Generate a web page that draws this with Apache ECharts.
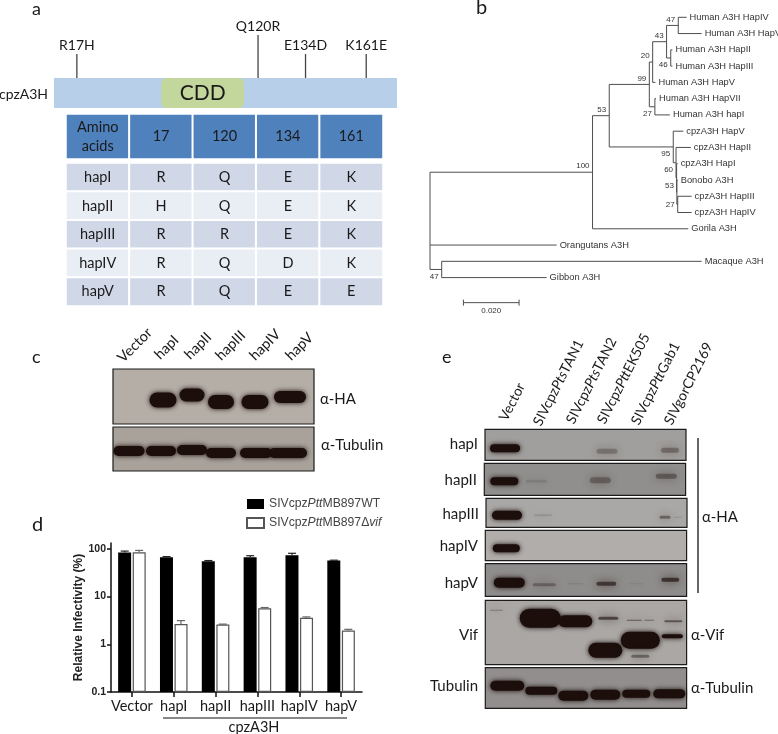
<!DOCTYPE html>
<html><head><meta charset="utf-8">
<style>html,body{margin:0;padding:0;background:#fff}#c{width:778px;height:734px}</style>
<script src="https://cdn.jsdelivr.net/npm/echarts@6/dist/echarts.min.js"></script>
</head><body><div id="c"></div>
<script>
// ---------- panel d data ----------
const infectivityCategories = ['Vector','hapI','hapII','hapIII','hapIV','hapV'];
const wtValues   = [84,67,55,67,74,57];
const wtUpper    = [90,69,57,72,81,58];
const dvifValues = [85,2.67,2.59,5.7,3.6,1.94];
const dvifUpper  = [93,3.14,2.65,5.9,3.75,2.06];
const infectivityTicks = [0.1,1,10,100];
// ---------- panel a data ----------
const siteNames  = ['R17H','Q120R','E134D','K161E'];
const sitePos    = [13,116,143,177.5];
const stemHeight = [0.8,1.43,0.8,0.8];
const cddRange   = [61,108];
const tableHeader = ['Amino\nacids','17','120','134','161'];
const tableRows = [
  ['hapI','R','Q','E','K'],
  ['hapII','H','Q','E','K'],
  ['hapIII','R','R','E','K'],
  ['hapIV','R','Q','D','K'],
  ['hapV','R','Q','E','E']];
// ---------- panel b data: [id, parent, divergence, leaf row or null, label, support] ----------
const treeNodes = [
  ['root',null,0,null,'',''],
  ['A','root',.0584,null,'','100'],
  ['C','A',.0644,null,'','53'],
  ['D','C',.0788,null,'','99'],
  ['F','D',.0800,null,'','20'],
  ['H','F',.0850,null,'','43'],
  ['I','H',.0892,null,'','47'],
  ['l0','I',.0922,0,'Human A3H HapIV',''],
  ['l1','I',.0976,1,'Human A3H HapVI',''],
  ['J','H',.0865,null,'','46'],
  ['l2','J',.0871,2,'Human A3H HapII',''],
  ['l3','J',.0871,3,'Human A3H HapIII',''],
  ['l4','F',.0810,4,'Human A3H HapV',''],
  ['G','D',.0808,null,'','27'],
  ['l5','G',.0812,5,'Human A3H HapVII',''],
  ['l6','G',.0862,6,'Human A3H hapI',''],
  ['E','C',.0874,null,'','95'],
  ['l7','E',.0910,7,'cpzA3H HapV',''],
  ['K','E',.0884,null,'','60'],
  ['l8','K',.0937,8,'cpzA3H HapII',''],
  ['L','K',.0886,null,'',''],
  ['l9','L',.0890,9,'cpzA3H HapI',''],
  ['N','L',.0887,null,'','53'],
  ['l10','N',.0890,10,'Bonobo A3H',''],
  ['P','N',.0890,null,'','27'],
  ['l11','P',.0940,11,'cpzA3H HapIII',''],
  ['l12','P',.0940,12,'cpzA3H HapIV',''],
  ['l13','A',.0928,13,'Gorila A3H',''],
  ['l14','root',.0455,14,'Orangutans A3H',''],
  ['B','root',.0042,null,'','47'],
  ['l15','B',.0976,15,'Macaque A3H',''],
  ['l16','B',.0419,16,'Gibbon A3H','']];
const scaleBarRange = [.0120,.0320];
const scaleBarRow = 17.54;
const scaleBarLabel = '0.020';
// ---------- blots: bands are [x, y, width, height, darkness] within the blot ----------
const blotHA_c = [[50,31,29,17,1],[79,26,27,15,1],[108,33,28,16,1],[142,33,29,16,1],[177,28,34,14,1]];
const blotTub_c = [[16,24,33,12,1],[48,24,32,12,1],[79,23,32,12,1],[108,26,32,12,1],[143,26,34,12,1],[175,26,40,12,1]];
const blotHapI = [[20,19,32,10,1],[122,22,23,7,.25],[185,21,20,7,.3]];
const blotHapII = [[20,18,30,10,1],[52,18,23,5,.12],[116,17,23,8,.3],[182,13,23,7,.35]];
const blotHapIII = [[21,17,32,11,1],[57,17,20,4,.12],[179,19,13,5,.4],[192,19,10,3,.15]];
const blotHapIV = [[21,18,29,10,1]];
const blotHapV = [[24,19,33,12,1],[59,21,25,5,.3],[90,20,17,3,.1],[121,20,22,6,.6],[151,20,17,3,.08],[185,16,20,6,.65]];
const blotVif = [[11,10,15,3,.3],[55,18,43,21,1],[90,21,36,14,1],[120,50,36,17,1],[155,40,41,19,1],[187,36,23,6,1],[123,18,22,5,.6],[149,20,17,3,.5],[164,20,12,3,.4],[188,21,20,4,.5],[155,56,20,5,.4]];
const blotTub_e = [[22,18,36,12,1],[56,23,34,10,1],[88,28,32,12,1],[120,27,32,12,1],[151,26,30,10,1],[184,26,34,11,1]];

const lanesC = ['Vector','hapI','hapII','hapIII','hapIV','hapV'];
const lanesE = ['Vector','SIVcpz{i|Pts}TAN1','SIVcpz{i|Pts}TAN2','SIVcpz{i|Ptt}EK505','SIVcpz{i|Ptt}Gab1','SIVgorCP2169'];
const rowLabelsE = ['hapI','hapII','hapIII','hapIV','hapV','Vif','Tubulin'];

// ---------- layout ----------
const LATO='Lato, sans-serif', ARIAL='"Liberation Sans", Arial, sans-serif';
const ink='#1a1a1a';
const chart=echarts.init(document.getElementById('c'),null,{renderer:'canvas'});
const grids=[],xAxes=[],yAxes=[],series=[];
function addGrid(g,x,y){grids.push(Object.assign({containLabel:false},g));xAxes.push(Object.assign({gridIndex:grids.length-1},x));yAxes.push(Object.assign({gridIndex:grids.length-1},y));return grids.length-1;}
function hidden(min,max,inverse){return {type:'value',show:false,min,max,inverse:!!inverse,splitLine:{show:false}};}

// panel d
const gd=addGrid({left:111,top:543,width:251,height:149},
 {type:'category',data:infectivityCategories,axisTick:{show:true,alignWithLabel:true,length:5,lineStyle:{color:'#111',width:1.5}},
  axisLine:{show:true,onZero:false,lineStyle:{color:'#111',width:1.5}},axisLabel:{color:ink,fontFamily:LATO,fontSize:14.5,margin:7,interval:0,hideOverlap:false},splitLine:{show:false}},
 {type:'log',logBase:10,min:0.1,max:133,startValue:0.1,name:'Relative Infectivity (%)',nameLocation:'middle',nameGap:25,
  nameTextStyle:{fontFamily:ARIAL,fontWeight:'bold',fontSize:12,color:'#222'},
  axisLine:{show:true,lineStyle:{color:'#111',width:1.5}},axisTick:{show:true,length:4,lineStyle:{color:'#111',width:1.5},customValues:infectivityTicks},minorTick:{show:false},
  axisLabel:{fontFamily:ARIAL,fontWeight:'bold',fontSize:10.5,color:'#222',margin:5,showMinLabel:true,showMaxLabel:true,
    customValues:infectivityTicks,formatter:v=>String(+(+v).toFixed(1))},
  splitLine:{show:false},minorSplitLine:{show:false}});
series.push({name:'SIVcpzPttMB897WT',type:'bar',xAxisIndex:gd,yAxisIndex:gd,data:wtValues,barWidth:13,barGap:'12%',itemStyle:{color:'#000',borderColor:'#000',borderWidth:0}});
series.push({name:'SIVcpzPttMB897Δvif',type:'bar',xAxisIndex:gd,yAxisIndex:gd,data:dvifValues,barWidth:13,barGap:'12%',itemStyle:{color:'#fff',borderColor:'#555',borderWidth:1.2}});
function errSeries(vals,uppers,off,color){
 series.push({type:'custom',xAxisIndex:gd,yAxisIndex:gd,z:3,silent:true,data:vals.map((v,i)=>[i,v,uppers[i]]),
  renderItem(p,api){const a=api.coord([api.value(0),api.value(1)]),b=api.coord([api.value(0),api.value(2)]);const x=a[0]+off;
   return {type:'group',children:[
    {type:'line',shape:{x1:x,y1:a[1],x2:x,y2:b[1]},style:{stroke:color,lineWidth:1.2}},
    {type:'line',shape:{x1:x-4,y1:b[1],x2:x+4,y2:b[1]},style:{stroke:color,lineWidth:1.2}}]};}});
}
errSeries(wtValues,wtUpper,-7.2,'#222');
errSeries(dvifValues,dvifUpper,7.2,'#666');

// panel a schematic
const gs=addGrid({left:54,top:30,width:343,height:78},hidden(0,195),hidden(0,2.6));
series.push({type:'custom',xAxisIndex:gs,yAxisIndex:gs,silent:true,clip:false,data:[[0,195,0,1]],
 renderItem(p,api){const a=api.coord([0,1]),b=api.coord([195,0]),c=api.coord([cddRange[0],1]),d=api.coord([cddRange[1],0]);
  return {type:'group',children:[
   {type:'rect',shape:{x:a[0],y:a[1],width:b[0]-a[0],height:b[1]-a[1]},style:{fill:'#b8cfe9'}},
   {type:'rect',shape:{x:c[0],y:c[1],width:d[0]-c[0],height:d[1]-c[1],r:5},style:{fill:'#c3d69b'}},
   {type:'text',x:(c[0]+d[0])/2,y:(c[1]+d[1])/2,style:{text:'CDD',fill:'#1a1a1a',font:'21px '+LATO,align:'center',verticalAlign:'middle'}}]};}});
series.push({type:'custom',xAxisIndex:gs,yAxisIndex:gs,silent:true,clip:false,data:sitePos.map((s,i)=>[s,stemHeight[i]]),
 renderItem(p,api){const i=p.dataIndex,a=api.coord([sitePos[i],1]),b=api.coord([sitePos[i],1+stemHeight[i]]);
  return {type:'group',children:[
   {type:'line',shape:{x1:a[0],y1:a[1],x2:b[0],y2:b[1]},style:{stroke:'#444',lineWidth:1.3}},
   {type:'text',x:a[0],y:b[1]-9,style:{text:siteNames[i],fill:ink,font:'14px '+LATO,align:'center',verticalAlign:'middle'}}]};}});

// panel a table
const cellLabel={show:true,color:'#1a1a1a',fontFamily:LATO,fontSize:14.5,lineHeight:19};
const gth=addGrid({left:66,top:114,width:317,height:45},
 {type:'category',show:false,data:tableHeader.map((_,i)=>i),splitArea:{show:false}},
 {type:'category',show:false,data:['h'],splitArea:{show:false}});
series.push({type:'heatmap',xAxisIndex:gth,yAxisIndex:gth,silent:true,
 data:tableHeader.map((t,c)=>({value:[c,0,1],itemStyle:{color:'#4f81bd',borderColor:'#fff',borderWidth:2},label:Object.assign({},cellLabel,{formatter:t})}))});
const gtb=addGrid({left:66,top:163,width:317,height:143},
 {type:'category',show:false,data:tableHeader.map((_,i)=>i),splitArea:{show:false}},
 {type:'category',show:false,inverse:true,data:tableRows.map((_,i)=>i),splitArea:{show:false}});
series.push({type:'heatmap',xAxisIndex:gtb,yAxisIndex:gtb,silent:true,
 data:tableRows.flatMap((row,r)=>row.map((t,c)=>({value:[c,r,1],itemStyle:{color:r%2?'#e9edf4':'#d0d8e8',borderColor:'#fff',borderWidth:2},label:Object.assign({},cellLabel,{formatter:t})})))});

// panel b tree
const byId={};treeNodes.forEach(n=>{byId[n[0]]={id:n[0],parent:n[1],x:n[2],row:n[3],label:n[4],support:n[5],kids:[]};});
Object.values(byId).forEach(n=>{if(n.parent)byId[n.parent].kids.push(n);});
(function setRow(n){if(n.row===null){n.kids.forEach(setRow);const rs=n.kids.map(k=>k.row);n.row=(Math.min(...rs)+Math.max(...rs))/2;}})(byId.root);
const below={J:1,G:1,E:1,K:1,B:1};
const gt=addGrid({left:430,top:17.3,width:340,height:309.1},hidden(0,.12216),hidden(0,19,true));
const treeList=Object.values(byId);
series.push({type:'custom',xAxisIndex:gt,yAxisIndex:gt,silent:true,clip:false,data:treeList.map(n=>[n.x,n.row]),
 renderItem(p,api){const n=treeList[p.dataIndex];const ch=[];const a=api.coord([n.x,n.row]);const st={stroke:'#4d4d4d',lineWidth:1};
  if(n.parent){const q=api.coord([byId[n.parent].x,n.row]);ch.push({type:'line',shape:{x1:q[0],y1:a[1],x2:a[0],y2:a[1]},style:st});}
  if(n.kids.length){const rs=n.kids.map(k=>k.row),t=api.coord([n.x,Math.min(...rs)]),b=api.coord([n.x,Math.max(...rs)]);ch.push({type:'line',shape:{x1:a[0],y1:t[1],x2:a[0],y2:b[1]},style:st});}
  if(n.label)ch.push({type:'text',x:a[0]+3,y:a[1],style:{text:n.label,fill:'#333',font:'9.3px '+ARIAL,align:'left',verticalAlign:'middle'}});
  if(n.support)ch.push({type:'text',x:a[0]-3,y:a[1]+(below[n.id]?7:(n.id==='P'?0:-6)),style:{text:n.support,fill:'#333',font:'8px '+ARIAL,align:'right',verticalAlign:'middle'}});
  return {type:'group',children:ch};}});
series.push({type:'custom',xAxisIndex:gt,yAxisIndex:gt,silent:true,clip:false,data:[[scaleBarRange[0],scaleBarRow]],
 renderItem(p,api){const a=api.coord([scaleBarRange[0],scaleBarRow]),b=api.coord([scaleBarRange[1],scaleBarRow]);const st={stroke:'#4d4d4d',lineWidth:1};
  return {type:'group',children:[
   {type:'line',shape:{x1:a[0],y1:a[1],x2:b[0],y2:b[1]},style:st},
   {type:'line',shape:{x1:a[0],y1:a[1]-3,x2:a[0],y2:a[1]+3},style:st},
   {type:'line',shape:{x1:b[0],y1:b[1]-3,x2:b[0],y2:b[1]+3},style:st},
   {type:'text',x:(a[0]+b[0])/2,y:a[1]+8,style:{text:scaleBarLabel,fill:'#333',font:'8px '+ARIAL,align:'center',verticalAlign:'middle'}}]};}});

// blots
function blot(rect,bands,bg){
 const g=addGrid({left:rect[0],top:rect[1],width:rect[2],height:rect[3],show:true,backgroundColor:bg,borderColor:'#1c1c1c',borderWidth:1.2},hidden(0,rect[2]),hidden(0,rect[3],true));
 series.push({type:'custom',xAxisIndex:g,yAxisIndex:g,silent:true,clip:true,data:bands,z:2,
  renderItem(p,api){const c=api.coord([api.value(0),api.value(1)]),s=api.size([api.value(2),api.value(3)]);const al=api.value(4);
   const col='#1b0e0b';const w=Math.abs(s[0])-2,h=Math.abs(s[1])-2;
   return {type:'rect',shape:{x:c[0]-w/2,y:c[1]-h/2,width:w,height:h,r:h/2},style:{fill:col,opacity:al,shadowBlur:al<1?8:5,shadowColor:col}};}});
}
blot([113,369,201,55],blotHA_c,'#b5aea6');
blot([113,427,201,44],blotTub_c,'#a9a29b');
blot([485,429.3,201,31],blotHapI,'#a19f9d');
blot([484.3,463.3,201.3,32],blotHapII,'#918f8e');
blot([486,498.3,201,29],blotHapIII,'#aaa8a6');
blot([485.3,530.3,201.3,30.3],blotHapIV,'#b0adab');
blot([485.3,563.7,201.3,32.7],blotHapV,'#8f8d8c');
blot([485.3,600.3,201.3,64.3],blotVif,'#aaa7a5');
blot([485.3,667.7,201.3,40.7],blotTub_e,'#918e8d');

// text & annotations
const T=(x,y,text,size,extra)=>({type:'text',x,y,silent:true,style:Object.assign({text,fill:ink,font:size+'px '+LATO,align:'left',verticalAlign:'middle'},extra||{})});
const R=(x,y,text,size)=>T(x,y,text,size,{align:'right'});
const graphic=[
 T(32,9,'a',18),T(476,8,'b',20),T(32,357,'c',18),T(32,525,'d',20),T(442,357,'e',18),
 R(48,94,'cpzA3H',14),
 T(320,399,'α-HA',15),T(321,445,'α-Tubulin',15),
 T(702,517,'α-HA',15),T(691,635,'α-Vif',15),T(691,688,'α-Tubulin',15),
 T(254,727,'cpzA3H',14.5,{align:'center'}),
 {type:'line',silent:true,shape:{x1:163,y1:718,x2:347,y2:718},style:{stroke:'#111',lineWidth:1}},
 {type:'line',silent:true,shape:{x1:698,y1:438,x2:698,y2:593},style:{stroke:'#666',lineWidth:2}}
];
const rowLabelPos=[[478,444],[477,480],[479,514],[478,546],[478,583],[478,635],[478,686]];
rowLabelsE.forEach((t,i)=>graphic.push(R(rowLabelPos[i][0],rowLabelPos[i][1],t,15)));
const laneCPos=[[120,360],[157,357],[187,357],[218,358],[252,358],[288,358]];
lanesC.forEach((t,i)=>graphic.push(Object.assign(T(laneCPos[i][0],laneCPos[i][1],t,14.5),{rotation:Math.PI/4})));
const laneEPos=[[503,420],[537,425],[570,423],[601,423],[635,424],[668,424]];
const richI={i:{fontStyle:'italic',fontFamily:LATO,fontSize:14,fill:ink,color:ink}};
lanesE.forEach((t,i)=>graphic.push({type:'text',silent:true,x:laneEPos[i][0],y:laneEPos[i][1],rotation:Math.PI*63/180,
  style:{text:t,fill:ink,fontFamily:LATO,fontSize:14,fontStyle:'normal',align:'left',verticalAlign:'middle',rich:richI}}));

chart.setOption({
 animation:false,backgroundColor:'#fff',
 legend:{orient:'vertical',left:241,top:493,itemWidth:17,itemHeight:10,itemGap:7,selectedMode:false,icon:'rect',
  data:['SIVcpzPttMB897WT','SIVcpzPttMB897Δvif'],
  formatter:n=>n.replace('Ptt','{i|Ptt}').replace('vif','{i|vif}'),
  textStyle:{fontFamily:ARIAL,fontSize:12.2,color:'#444',rich:{i:{fontFamily:ARIAL,fontStyle:'italic',fontSize:12.2,color:'#444'}}}},
 grid:grids,xAxis:xAxes,yAxis:yAxes,series,graphic:{elements:graphic}
});
</script></body></html>
